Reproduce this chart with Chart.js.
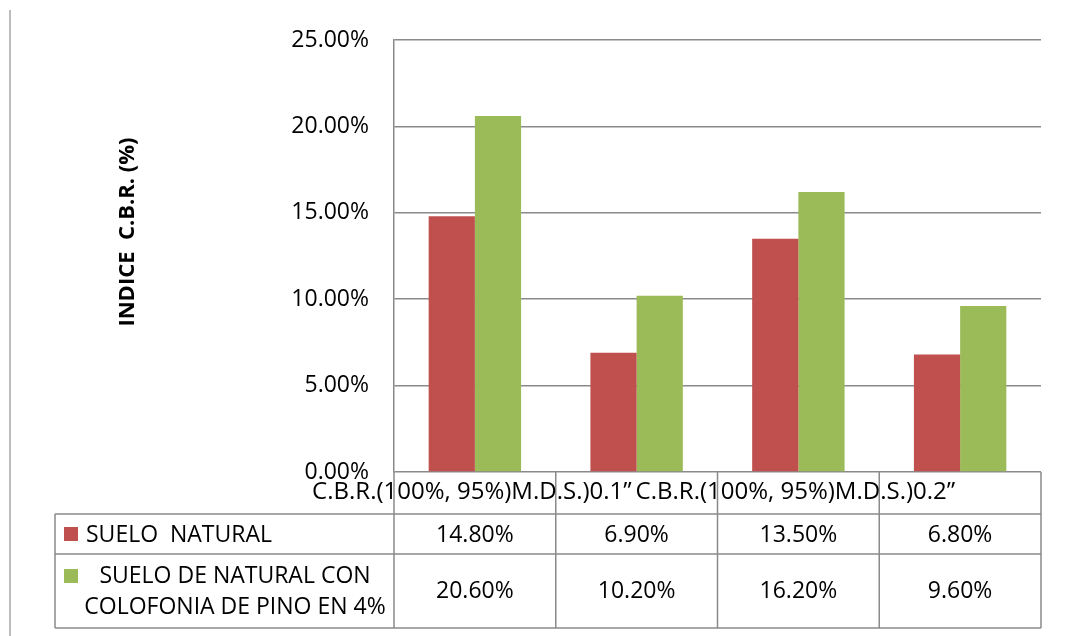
<!DOCTYPE html>
<html>
<head>
<meta charset="utf-8">
<script src="https://cdn.jsdelivr.net/npm/chart.js@4/dist/chart.umd.min.js"></script>
<style>
  html, body { margin: 0; padding: 0; background: #ffffff; }
  #wrap { width: 1088px; height: 636px; }
</style>
</head>
<body>
<div id="wrap"><canvas id="cbr" width="1088" height="636"></canvas></div>
<script>
// Categories (only the first and third carry a header label)
const categories = ['C.B.R.(100%, 95%)M.D.S.)0.1\u201D', '', 'C.B.R.(100%, 95%)M.D.S.)0.2\u201D', ''];

// Series names
const naturalName = 'SUELO  NATURAL';
const colofoniaName = ['SUELO DE NATURAL CON', 'COLOFONIA DE PINO EN 4%'];

// C.B.R. index values (%)
const naturalValues = [14.8, 6.9, 13.5, 6.8];
const colofoniaValues = [20.6, 10.2, 16.2, 9.6];

// Y axis ticks (%)
const yTicks = [0, 5, 10, 15, 20, 25];

const axisTitle = 'INDICE  C.B.R. (%)';

const RED = '#C0504D';
const GREEN = '#9BBB59';
const LINE = '#8a8a8a';
const FONT = '"Open Sans", "Liberation Sans", sans-serif';

const fmt = v => v.toFixed(2) + '%';

// Draws the data table under the plot, the header labels and the axis title
const dataTablePlugin = {
  id: 'dataTable',
  afterDraw(chart) {
    const ctx = chart.ctx;
    const area = chart.chartArea;
    const xs = chart.scales.x;
    const colW = (area.right - area.left) / categories.length;
    const edges = [];
    for (let i = 0; i <= categories.length; i++) edges.push(area.left + i * colW);

    const headerBottom = 514;
    const rowSplit = 554;
    const tableBottom = 628;
    const tableLeft = 55;

    ctx.save();
    ctx.strokeStyle = LINE;
    ctx.lineWidth = 1.5;

    // header column separators
    ctx.beginPath();
    edges.forEach(x => { ctx.moveTo(x, area.bottom); ctx.lineTo(x, headerBottom); });
    ctx.stroke();

    // table grid
    ctx.beginPath();
    ctx.moveTo(tableLeft, headerBottom); ctx.lineTo(area.right, headerBottom);
    ctx.moveTo(tableLeft, rowSplit); ctx.lineTo(area.right, rowSplit);
    ctx.moveTo(tableLeft, tableBottom); ctx.lineTo(area.right, tableBottom);
    ctx.moveTo(tableLeft, headerBottom); ctx.lineTo(tableLeft, tableBottom);
    edges.forEach(x => { ctx.moveTo(x, headerBottom); ctx.lineTo(x, tableBottom); });
    ctx.stroke();

    // outer frame edge on the left
    ctx.strokeStyle = '#a6a6a6';
    ctx.beginPath();
    ctx.moveTo(10, 10); ctx.lineTo(10, 636);
    ctx.stroke();

    // category header labels
    ctx.fillStyle = '#000000';
    ctx.font = '24px ' + FONT;
    ctx.textAlign = 'center';
    ctx.textBaseline = 'middle';
    categories.forEach((c, i) => {
      if (c) ctx.fillText(c, xs.getPixelForValue(i) - 3, 492);
    });

    // values in the table
    ctx.font = '23px ' + FONT;
    naturalValues.forEach((v, i) => ctx.fillText(fmt(v), xs.getPixelForValue(i), 535));
    colofoniaValues.forEach((v, i) => ctx.fillText(fmt(v), xs.getPixelForValue(i), 591));

    // legend keys and series names
    ctx.fillStyle = RED;
    ctx.fillRect(64, 527, 14, 14);
    ctx.fillStyle = GREEN;
    ctx.fillRect(64, 569, 14, 14);
    ctx.fillStyle = '#000000';
    ctx.textAlign = 'left';
    ctx.fillText(naturalName, 86, 535);
    ctx.textAlign = 'center';
    ctx.fillText(colofoniaName[0], 235, 576);
    ctx.fillText(colofoniaName[1], 235, 607);

    // y axis title
    ctx.translate(128, 232);
    ctx.rotate(-Math.PI / 2);
    ctx.font = 'bold 22px ' + FONT;
    ctx.fillText(axisTitle, 0, 0);
    ctx.restore();
  }
};

new Chart(document.getElementById('cbr'), {
  type: 'bar',
  data: {
    labels: categories,
    datasets: [
      { label: naturalName, data: naturalValues, backgroundColor: RED, borderWidth: 0,
        categoryPercentage: 2 / 3.5, barPercentage: 1 },
      { label: colofoniaName.join(' '), data: colofoniaValues, backgroundColor: GREEN, borderWidth: 0,
        categoryPercentage: 2 / 3.5, barPercentage: 1 }
    ]
  },
  options: {
    responsive: false,
    devicePixelRatio: 1,
    animation: false,
    layout: { padding: { top: 40, right: 47, bottom: 164, left: 0 } },
    plugins: { legend: { display: false }, tooltip: { enabled: false } },
    scales: {
      x: { display: false },
      y: {
        min: 0, max: 25,
        afterFit(scale) { scale.width = 394; },
        afterBuildTicks(scale) { scale.ticks = yTicks.map(v => ({ value: v })); },
        ticks: {
          padding: 25,
          color: '#000000',
          font: { family: FONT, size: 23 },
          callback: v => fmt(v)
        },
        grid: { color: LINE, lineWidth: 1.5, drawTicks: false },
        border: { color: LINE, width: 1.5 }
      }
    }
  },
  plugins: [dataTablePlugin]
});
</script>
</body>
</html>
